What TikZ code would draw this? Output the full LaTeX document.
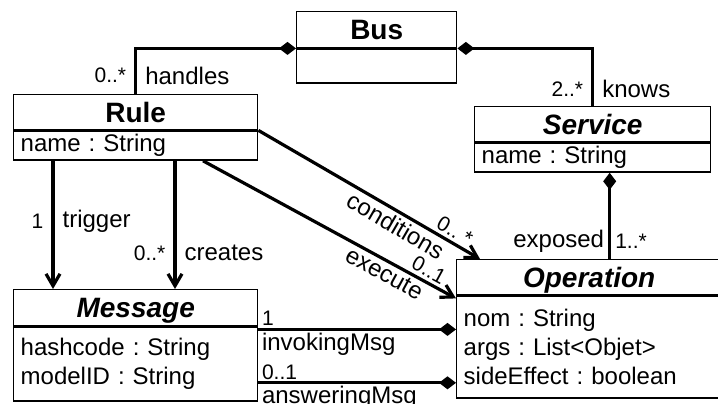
\documentclass[tikz,border=0pt]{standalone}
\usepackage{fontspec}
\setmainfont{Liberation Sans}
\usetikzlibrary{positioning,calc,arrows.meta}
\frenchspacing

\begin{document}
\begin{tikzpicture}[x=0.5pt,y=-0.5pt,
    classname/.style={draw, line width=0.7pt, anchor=north west, inner sep=0pt,
        text height=10pt, text depth=0pt, font=\fontsize{14}{16}\selectfont\bfseries},
    abstractname/.style={classname, font=\fontsize{14}{16}\selectfont\bfseries\itshape},
    classattr/.style={draw, line width=0.7pt, anchor=north west, inner xsep=3.5pt,
        inner ysep=0pt, align=left, font=\fontsize{12}{14.5}\selectfont},
    assoc/.style={line width=1.6pt},
    nav/.style={assoc, -{Straight Barb[length=6pt,width=7pt]}},
    compo/.style={assoc, {Diamond[length=8.5pt,width=6.5pt]}-},
    role/.style={font=\fontsize{12}{14}\selectfont, inner sep=4pt},
    mult/.style={font=\fontsize{10.5}{12}\selectfont, inner sep=4pt}]
        \useasboundingbox (0,0) rectangle (718,403);

        % Bus
        \node[classname, minimum width=80pt, minimum height=18pt] (bus) at (296,11) {Bus};
        \node[classattr, text width=73pt, minimum height=17pt] (busattr) at (bus.south west) {};

        % Rule
        \node[classname, minimum width=122pt, minimum height=17.5pt] (rule) at (13,94) {Rule};
        \node[classattr, text width=115pt, minimum height=14.5pt] (ruleattr) at (rule.south west) {name : String};

        % Service
        \node[abstractname, minimum width=118pt, minimum height=17.5pt] (service) at (474,106) {Service};
        \node[classattr, text width=111pt, minimum height=14.5pt] (serviceattr) at (service.south west) {name : String};

        % Message
        \node[abstractname, minimum width=122pt, minimum height=18pt] (message) at (13,289) {Message};
        \node[classattr, text width=115pt, minimum height=37pt] (messageattr) at (message.south west)
            {hashcode : String\\ modelID : String};

        % Operation
        \node[abstractname, minimum width=132.5pt, minimum height=17.5pt] (operation) at (456,259) {Operation};
        \node[classattr, text width=125.5pt, minimum height=51pt] (operationattr) at (operation.south west)
            {nom : String\\ args : List<Objet>\\ sideEffect : boolean};

        % Bus compositions
        \draw[compo] (bus.south west) -| (rule.north)
            node[mult, pos=0.8, left] {0..*}
            node[role, pos=0.8, right] {handles};
        \draw[compo] (bus.south east) -| (service.north)
            node[mult, pos=0.85, left] {2..*}
            node[role, pos=0.85, right] {knows};

        % Service exposes operations
        \coordinate (exp) at ([xshift=8.5pt]serviceattr.south);
        \draw[compo] (exp) -- (exp |- operation.north)
            node[role, pos=0.8, left, inner sep=2pt] {exposed}
            node[mult, pos=0.8, right, inner sep=2pt] {1..*};

        % Rule to Message
        \draw[nav] ([xshift=20pt]ruleattr.south west) -- ([xshift=20pt]message.north west)
            node[mult, pos=0.47, left] {1}
            node[role, pos=0.47, right] {trigger};
        \draw[nav] ([xshift=81pt]ruleattr.south west) -- ([xshift=81pt]message.north west)
            node[mult, pos=0.72, left] {0..*}
            node[role, pos=0.72, right] {creates};

        % Rule to Operation
        \draw[nav] (rule.south east) -- ([xshift=12pt]operation.north west)
            node[role, pos=0.65, sloped, below, inner sep=1.5pt] {conditions}
            node[mult, pos=0.86, sloped, above, inner sep=1.5pt] {0.. *};
        \draw[nav] ([xshift=95pt]ruleattr.south west) -- ([yshift=-1.5pt]operation.south west)
            node[role, pos=0.74, sloped, below, inner sep=1.5pt] {execute}
            node[mult, pos=0.87, sloped, above, inner sep=1.5pt] {0..1};

        % Message to Operation
        \coordinate (inv) at ([yshift=-1.5pt]message.south east);
        \draw[compo] (inv -| operationattr.west) -- (inv)
            node[mult, pos=1, anchor=south west, inner sep=1pt] {1}
            node[role, pos=1, anchor=north west, inner sep=1pt] {invokingMsg};
        \coordinate (ans) at ([yshift=9.5pt]messageattr.south east);
        \draw[compo] (ans -| operationattr.west) -- (ans)
            node[mult, pos=1, anchor=south west, inner sep=1pt] {0..1}
            node[role, pos=1, anchor=north west, inner sep=1pt] {answeringMsg};
    \end{tikzpicture}
\end{document}
